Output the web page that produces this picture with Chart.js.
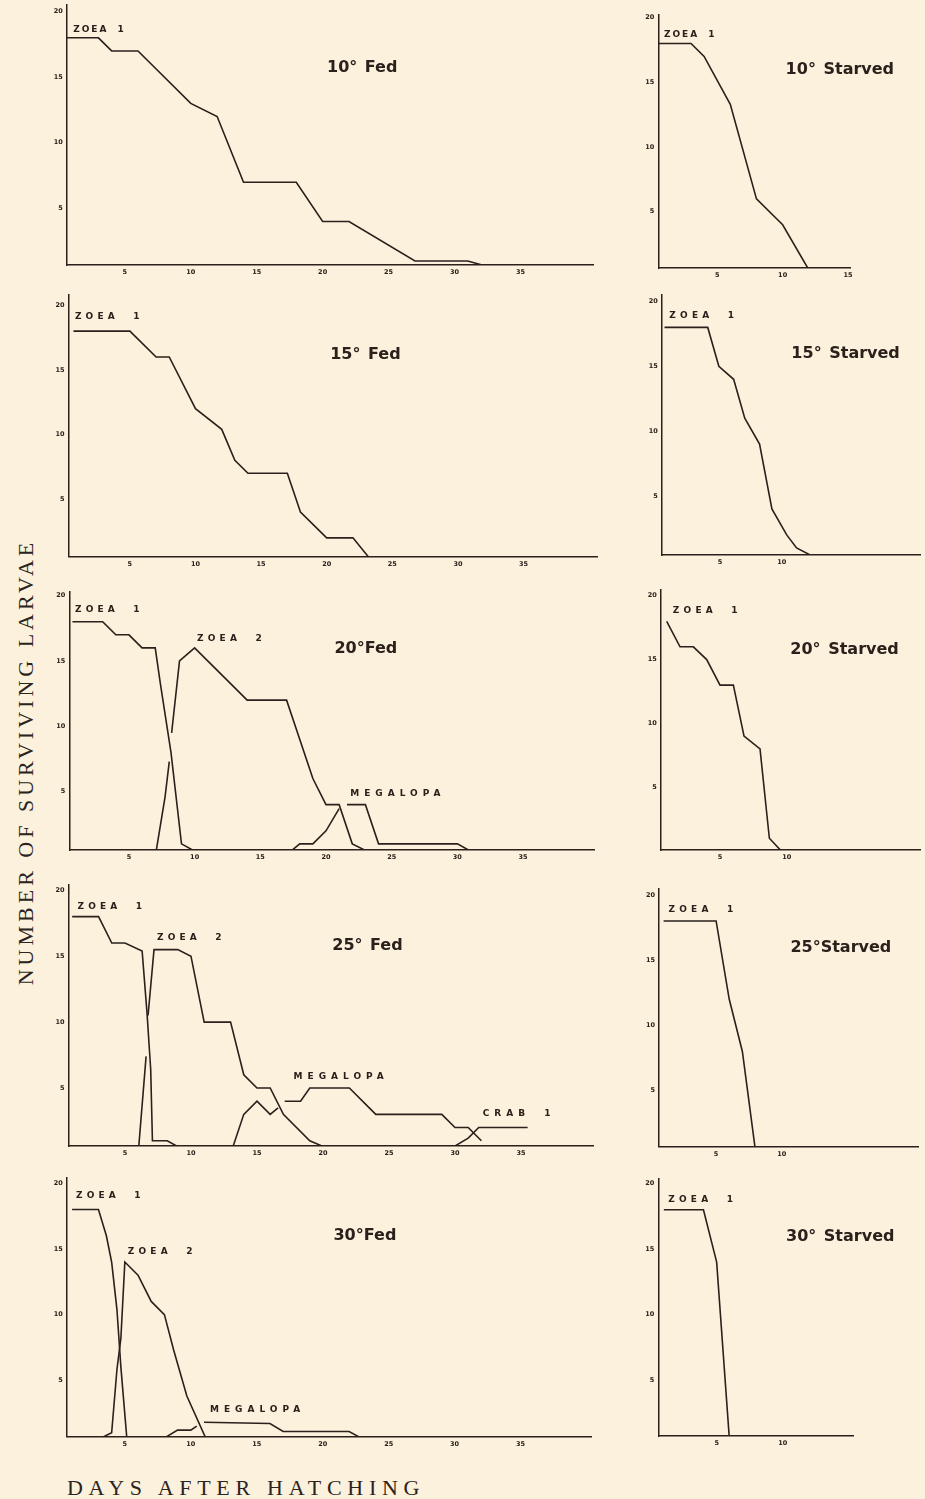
<!DOCTYPE html>
<html>
<head>
<meta charset="utf-8">
<script src="https://cdn.jsdelivr.net/npm/chart.js@4.4.1/dist/chart.umd.min.js"></script>
<style>
  html, body { margin: 0; padding: 0; }
  body { width: 925px; height: 1499px; position: relative; overflow: hidden; background: #fbf1dc; }
  canvas { position: absolute; }
  .axt { position: absolute; font-family: "Liberation Serif", "DejaVu Serif", serif; font-size: 22px; color: #2b2320; white-space: nowrap; }
  #ylab { left: 25.5px; top: 762px; letter-spacing: 4px; transform: translate(-50%, -50%) rotate(-90deg); }
  #xlab { left: 67px; top: 1475px; letter-spacing: 5.7px; }
</style>
</head>
<body>
<div id="ylab" class="axt">NUMBER OF SURVIVING LARVAE</div>
<div id="xlab" class="axt">DAYS AFTER HATCHING</div>
<script>
// ---------- tick labels ----------
const Y_TICKS = [5, 10, 15, 20];
const X_TICKS_FED = [5, 10, 15, 20, 25, 30, 35];
const X_TICKS_10S = [5, 10, 15];
const X_TICKS_S = [5, 10];

// ---------- 10° Fed ----------
const F10_ZOEA1_DAY = [0, 3, 4, 6, 10, 12, 14, 18, 20, 22, 27, 31, 34.5];
const F10_ZOEA1_N   = [18, 18, 17, 17, 13, 12, 7, 7, 4, 4, 1, 1, 0];

// ---------- 10° Starved ----------
const S10_ZOEA1_DAY = [0, 3, 4, 6, 8, 10, 12.3];
const S10_ZOEA1_N   = [18, 18, 17, 13.3, 6, 4, 0];

// ---------- 15° Fed ----------
const F15_ZOEA1_DAY = [0.7, 5, 7, 8, 10, 12, 13, 14, 17, 18, 20, 22, 23.6];
const F15_ZOEA1_N   = [18, 18, 16, 16, 12, 10.4, 8, 7, 7, 4, 2, 2, 0];

// ---------- 15° Starved ----------
const S15_ZOEA1_DAY = [0.5, 4, 4.9, 6.1, 7, 8.2, 9.2, 10.4, 11.2, 13.2];
const S15_ZOEA1_N   = [18, 18, 15, 14, 11, 9, 4, 2, 1, 0];

// ---------- 20° Fed ----------
const F20_ZOEA1_DAY = [0.7, 3, 4, 5, 6, 7, 7.4, 8.2, 9, 10.8];
const F20_ZOEA1_N   = [18, 18, 17, 17, 16, 16, 13.2, 8, 1, 0];
const F20_ZOEA2_DAY = [7, 7.75, 8.07, 8.15, 8.25, 8.85, 10, 14, 17, 19, 20, 21, 22, 24];
const F20_ZOEA2_N   = [0, 4.6, 7.3, null, 9.5, 15, 16, 12, 12, 6, 4, 4, 1, 0];
const F20_MEGA_DAY  = [16.8, 18, 19, 20, 21, 21.3, 21.6, 23, 24, 30, 31.8];
const F20_MEGA_N    = [0, 1, 1, 2, 3.7, null, 4, 4, 1, 1, 0];

// ---------- 20° Starved ----------
const S20_ZOEA1_DAY = [1, 2, 3, 4, 5, 6, 6.8, 8, 8.7, 9.6];
const S20_ZOEA1_N   = [18, 16, 16, 15, 13, 13, 9, 8, 1, 0];

// ---------- 25° Fed ----------
const F25_ZOEA1_DAY = [1, 3, 4, 5, 6.3, 6.67, 6.95, 7.08, 8.2, 10];
const F25_ZOEA1_N   = [18, 18, 16, 16, 15.4, 10.7, 6.4, 1, 1, 0];
const F25_ZOEA2_DAY = [6, 6.6, 6.68, 6.75, 7.2, 9, 10, 11, 13, 14, 15, 16, 17, 19, 21.3];
const F25_ZOEA2_N   = [0, 7.4, null, 10.5, 15.5, 15.5, 15, 10, 10, 6, 5, 5, 3, 1, 0];
const F25_MEGA_DAY  = [13, 14, 15, 16, 16.6, 16.85, 17.1, 18.3, 19, 22, 24, 29, 30, 31, 32];
const F25_MEGA_N    = [0, 3, 4, 3, 3.5, null, 4, 4, 5, 5, 3, 3, 2, 2, 1];
const F25_CRAB1_DAY = [29, 31, 31.8, 35.5];
const F25_CRAB1_N   = [0, 1.2, 2, 2];

// ---------- 25° Starved ----------
const S25_ZOEA1_DAY = [1, 5, 6, 7, 8.05];
const S25_ZOEA1_N   = [18, 18, 12, 8, 0];

// ---------- 30° Fed ----------
const F30_ZOEA1_DAY = [1, 3, 3.6, 4, 4.4, 4.7, 5.2];
const F30_ZOEA1_N   = [18, 18, 16, 14, 10.4, 6, 0];
const F30_ZOEA2_DAY = [2, 4, 4.4, 4.7, 5, 6, 7, 8, 8.7, 9.7, 11.4];
const F30_ZOEA2_N   = [0, 1, 5.8, 8.2, 14, 13, 11, 10, 7.3, 3.8, 0];
const F30_MEGA_DAY  = [7, 9, 10, 10.45, 10.7, 11, 16, 17, 22, 24];
const F30_MEGA_N    = [0, 1.2, 1.2, 1.5, null, 1.8, 1.7, 1.1, 1.1, 0];

// ---------- 30° Starved ----------
const S30_ZOEA1_DAY = [1, 4, 5, 6];
const S30_ZOEA1_N   = [18, 18, 14, 0];

// ---------- panel layout (positions / styles only) ----------
const INK = '#2a201c';
const PANELS = [
  { col: 0, box: [66.8, 5, 593, 265], xr: [0.6, 40.5], yr: [0.69, 20.5], xt: X_TICKS_FED,
    series: [[F10_ZOEA1_DAY, F10_ZOEA1_N]],
    title: ['10° Fed', 23.0, 15.7],
    labels: [['ZOEA 1', 1.08, 18.6, 'tight']] },
  { col: 1, box: [658.3, 15, 850.7, 268], xr: [0.5, 15.2], yr: [0.66, 20.2], xt: X_TICKS_10S,
    series: [[S10_ZOEA1_DAY, S10_ZOEA1_N]],
    title: ['10° Starved', 14.37, 15.97],
    labels: [['ZOEA 1', 0.93, 18.67, 'tight']] },
  { col: 0, box: [68.6, 295, 597, 556.7], xr: [0.33, 40.6], yr: [0.54, 20.8], xt: X_TICKS_FED,
    series: [[F15_ZOEA1_DAY, F15_ZOEA1_N]],
    title: ['15° Fed', 22.95, 16.2],
    labels: [['ZOEA 1', 0.81, 19.1]] },
  { col: 1, box: [661.7, 295, 920, 555], xr: [0.27, 21.2], yr: [0.45, 20.5], xt: X_TICKS_S,
    series: [[S15_ZOEA1_DAY, S15_ZOEA1_N]],
    title: ['15° Starved', 15.17, 16.0],
    labels: [['ZOEA 1', 0.89, 18.9]] },
  { col: 0, box: [69.3, 591.7, 594, 850], xr: [0.46, 40.4], yr: [0.53, 20.3], xt: X_TICKS_FED,
    series: [[F20_ZOEA1_DAY, F20_ZOEA1_N], [F20_ZOEA2_DAY, F20_ZOEA2_N], [F20_MEGA_DAY, F20_MEGA_N]],
    title: ['20°Fed', 23.03, 15.94],
    labels: [['ZOEA 1', 0.89, 18.93], ['ZOEA 2', 10.18, 16.7], ['MEGALOPA', 21.84, 4.88]] },
  { col: 1, box: [660.7, 590, 920, 850], xr: [0.55, 20], yr: [0.08, 20.45], xt: X_TICKS_S,
    series: [[S20_ZOEA1_DAY, S20_ZOEA1_N]],
    title: ['20° Starved', 14.34, 15.8],
    labels: [['ZOEA 1', 1.46, 18.83]] },
  { col: 0, box: [68.6, 885, 593.6, 1146], xr: [0.73, 40.5], yr: [0.6, 20.4], xt: X_TICKS_FED,
    series: [[F25_ZOEA1_DAY, F25_ZOEA1_N], [F25_ZOEA2_DAY, F25_ZOEA2_N], [F25_MEGA_DAY, F25_MEGA_N], [F25_CRAB1_DAY, F25_CRAB1_N]],
    title: ['25° Fed', 23.37, 15.8],
    labels: [['ZOEA 1', 1.4, 18.76], ['ZOEA 2', 7.42, 16.37], ['MEGALOPA', 17.77, 5.87], ['CRAB 1', 32.1, 3.09]] },
  { col: 1, box: [659, 888.3, 918.3, 1146.7], xr: [0.65, 20.4], yr: [0.71, 20.5], xt: X_TICKS_S,
    series: [[S25_ZOEA1_DAY, S25_ZOEA1_N]],
    title: ['25°Starved', 14.5, 15.93],
    labels: [['ZOEA 1', 1.37, 18.87]] },
  { col: 0, box: [66.8, 1178, 591.8, 1436.7], xr: [0.6, 40.4], yr: [0.7, 20.4], xt: X_TICKS_FED,
    series: [[F30_ZOEA1_DAY, F30_ZOEA1_N], [F30_ZOEA2_DAY, F30_ZOEA2_N], [F30_MEGA_DAY, F30_MEGA_N]],
    title: ['30°Fed', 23.2, 16.0],
    labels: [['ZOEA 1', 1.29, 19.05], ['ZOEA 2', 5.22, 14.8], ['MEGALOPA', 11.45, 2.74]] },
  { col: 1, box: [658.3, 1178.3, 853.3, 1436], xr: [0.58, 15.35], yr: [0.73, 20.4], xt: X_TICKS_S,
    series: [[S30_ZOEA1_DAY, S30_ZOEA1_N]],
    title: ['30° Starved', 14.36, 15.9],
    labels: [['ZOEA 1', 1.33, 18.8]] }
];

const textPlugin = {
  id: 'panelText',
  afterDatasetsDraw(chart, args, opts) {
    const ctx = chart.ctx, xs = chart.scales.x, ys = chart.scales.y;
    const p = opts.panel;
    ctx.save();
    ctx.fillStyle = INK;
    ctx.textBaseline = 'middle';
    // stage labels
    p.labels.forEach(([t, x, y, style]) => {
      ctx.font = 'bold 9px "DejaVu Sans", sans-serif';
      ctx.textAlign = 'left';
      if (style === 'tight') { ctx.letterSpacing = '2px'; ctx.wordSpacing = '4px'; }
      else { ctx.letterSpacing = '4.2px'; ctx.wordSpacing = '7px'; }
      if (t === 'MEGALOPA') { ctx.letterSpacing = '5px'; }
      if (t === 'CRAB 1') { ctx.letterSpacing = '5px'; ctx.wordSpacing = '6px'; }
      ctx.fillText(t, xs.getPixelForValue(x), ys.getPixelForValue(y));
    });
    // title
    const [tt, tx, ty] = p.title;
    ctx.letterSpacing = '0px'; ctx.wordSpacing = '2px';
    ctx.font = 'bold 16px "DejaVu Sans", sans-serif';
    ctx.textAlign = 'center';
    ctx.fillText(tt, xs.getPixelForValue(tx), ys.getPixelForValue(ty));
    ctx.restore();
  }
};

PANELS.forEach(p => {
  const [L, T, R, B] = p.box;
  const cl = Math.floor(L) - 36;
  const ct = Math.floor(T) - 14;
  const cr = p.col === 0 ? 628 : 925;
  const yW = L - cl;
  const padTop = T - ct;
  const padRight = cr - R;
  const h = Math.ceil(B - ct + 22);
  const xH = h - (B - ct);
  const cv = document.createElement('canvas');
  cv.width = cr - cl; cv.height = h;
  cv.style.left = cl + 'px'; cv.style.top = ct + 'px';
  cv.style.width = (cr - cl) + 'px'; cv.style.height = h + 'px';
  document.body.appendChild(cv);

  const datasets = p.series.map(([days, counts]) => ({
    data: days.map((d, i) => ({ x: d, y: counts[i] })),
    borderColor: INK,
    borderWidth: 1.6,
    pointRadius: 0,
    fill: false,
    tension: 0,
    spanGaps: false
  }));

  const tickFont = { family: '"DejaVu Sans", sans-serif', size: 6.5, weight: 'bold' };

  new Chart(cv, {
    type: 'line',
    data: { datasets },
    options: {
      responsive: false,
      animation: false,
      devicePixelRatio: 1,
      layout: { padding: { top: padTop, right: padRight, left: 0, bottom: 0 } },
      plugins: { legend: { display: false }, tooltip: { enabled: false }, panelText: { panel: p } },
      scales: {
        x: {
          type: 'linear', min: p.xr[0], max: p.xr[1],
          grid: { display: false, drawTicks: false },
          border: { display: true, color: INK, width: 1.5 },
          ticks: { color: INK, font: tickFont, padding: 3.5, autoSkip: false, maxRotation: 0, callback: v => String(v) },
          afterBuildTicks: s => { s.ticks = p.xt.map(v => ({ value: v })); },
          afterFit: s => { s.height = xH; }
        },
        y: {
          type: 'linear', min: p.yr[0], max: p.yr[1],
          grid: { display: false, drawTicks: false },
          border: { display: true, color: INK, width: 1.5 },
          ticks: { color: INK, font: tickFont, padding: 4, autoSkip: false, callback: v => String(v) },
          afterBuildTicks: s => { s.ticks = Y_TICKS.map(v => ({ value: v })); },
          afterFit: s => { s.width = yW; }
        }
      }
    },
    plugins: [textPlugin]
  });
});
</script>
</body>
</html>
